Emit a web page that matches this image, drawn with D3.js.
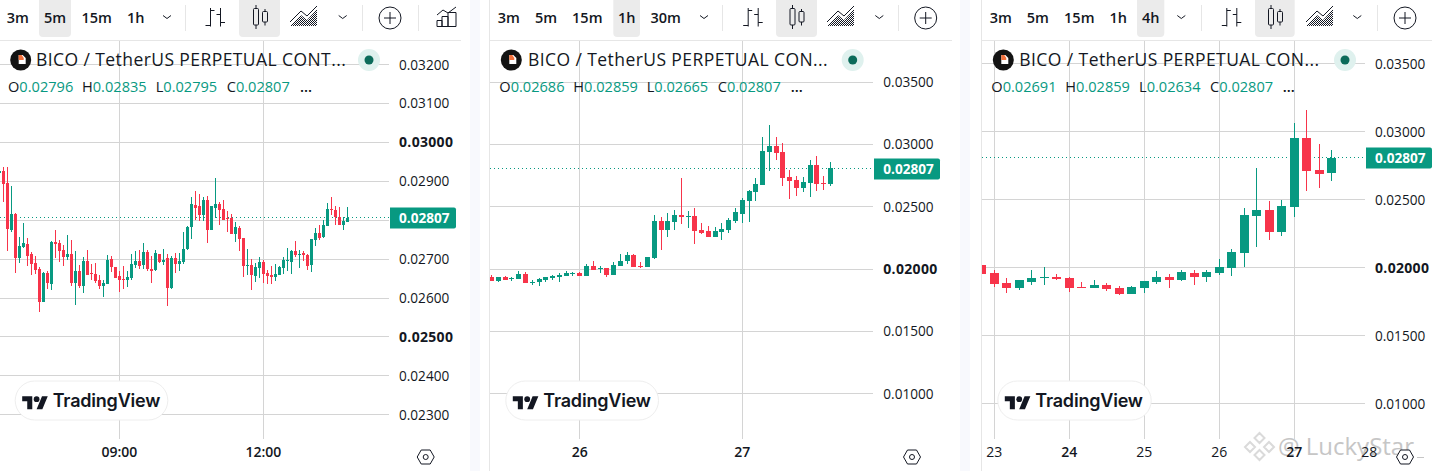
<!DOCTYPE html>
<html>
<head>
<meta charset="utf-8">
<script src="https://cdn.jsdelivr.net/npm/d3@7/dist/d3.min.js"></script>
<style>
  html, body { margin: 0; padding: 0; background: #fff; }
  svg { display: block; }
  text { font-family: "Open Sans", "Noto Sans", sans-serif; fill: #131722; }
</style>
</head>
<body>
<svg id="chart" width="1432" height="471"></svg>
<script>
// prices are stored in units of 0.00001, rows are [open, high, low, close]
const candles5m = [
  [2922,2926,2922,2926],[2926,2936,2847,2893],[2896,2936,2721,2778],[2775,2888,2770,2816],
  [2816,2819,2665,2703],[2703,2757,2691,2734],[2732,2793,2729,2742],[2739,2755,2683,2709],
  [2714,2719,2660,2688],[2691,2709,2662,2673],[2675,2680,2565,2591],[2591,2668,2591,2665],
  [2665,2670,2624,2639],[2637,2747,2621,2744],[2744,2775,2703,2739],[2742,2750,2693,2721],
  [2724,2737,2683,2706],[2706,2762,2698,2714],[2714,2750,2632,2639],[2639,2721,2583,2670],
  [2670,2685,2626,2632],[2632,2706,2614,2696],[2696,2724,2660,2660],[2665,2688,2647,2662],
  [2662,2691,2639,2644],[2647,2660,2624,2632],[2632,2647,2603,2639],[2637,2711,2637,2698],
  [2701,2709,2668,2680],[2680,2680,2652,2652],[2657,2670,2616,2647],[2650,2683,2624,2647],
  [2647,2670,2629,2655],[2652,2714,2647,2688],[2685,2721,2678,2696],[2696,2724,2675,2683],
  [2685,2742,2675,2719],[2719,2724,2670,2675],[2675,2709,2639,2670],[2673,2724,2670,2716],
  [2714,2714,2691,2693],[2693,2727,2685,2698],[2703,2714,2580,2626],[2626,2709,2624,2703],
  [2703,2716,2665,2688],[2688,2716,2670,2696],[2693,2770,2688,2727],[2727,2785,2724,2783],
  [2783,2860,2752,2842],[2839,2875,2801,2832],[2837,2867,2798,2814],[2814,2860,2798,2852],
  [2852,2862,2742,2775],[2775,2837,2775,2837],[2832,2908,2806,2842],[2842,2847,2788,2826],
  [2829,2852,2801,2801],[2806,2824,2770,2803],[2806,2816,2765,2765],[2765,2796,2744,2783],
  [2780,2785,2721,2752],[2755,2755,2655,2683],[2683,2727,2660,2685],[2685,2701,2621,2660],
  [2657,2691,2642,2680],[2678,2706,2652,2693],[2693,2698,2639,2662],[2665,2673,2637,2657],
  [2660,2683,2637,2655],[2655,2688,2644,2662],[2660,2683,2660,2680],[2678,2706,2662,2698],
  [2696,2729,2670,2698],[2693,2724,2662,2721],[2721,2747,2706,2711],[2711,2724,2678,2714],
  [2716,2721,2696,2711],[2711,2714,2673,2683],[2685,2752,2668,2752],[2750,2780,2734,2767],
  [2767,2788,2750,2755],[2757,2801,2755,2788],[2785,2844,2785,2829],[2829,2860,2814,2826],
  [2826,2837,2788,2808],[2808,2834,2788,2788],[2788,2808,2775,2798],[2796,2835,2795,2807]
];
const candles1h = [
  [1938,1954,1906,1906],[1906,1938,1898,1938],[1938,1946,1914,1914],[1922,1938,1906,1930],
  [1922,1987,1922,1962],[1962,1979,1890,1890],[1890,1914,1874,1898],[1898,1930,1866,1922],
  [1914,1938,1898,1938],[1930,1954,1914,1946],[1938,1971,1898,1954],[1946,1987,1946,1971],
  [1962,1979,1946,1971],[1971,1979,1946,1946],[1946,2043,1946,2027],[2027,2067,1995,1995],
  [2003,2027,1971,2011],[2011,2011,1938,1954],[1954,2059,1954,2035],[2027,2123,2027,2067],
  [2067,2139,2043,2115],[2115,2123,2019,2019],[2027,2059,2011,2019],[2019,2099,2019,2099],
  [2088,2433,2080,2385],[2385,2417,2152,2313],[2313,2449,2257,2385],[2377,2473,2313,2433],
  [2433,2730,2361,2417],[2417,2465,2329,2425],[2425,2489,2200,2305],[2313,2369,2281,2289],
  [2305,2345,2257,2257],[2257,2337,2257,2305],[2297,2369,2233,2321],[2313,2409,2289,2393],
  [2385,2489,2369,2457],[2441,2569,2369,2553],[2545,2634,2377,2626],[2618,2730,2545,2682],
  [2674,3059,2674,2947],[2939,3155,2786,2987],[2987,3059,2874,2931],[2939,3011,2666,2730],
  [2738,2794,2561,2706],[2714,2746,2586,2650],[2650,2738,2618,2698],[2690,2874,2577,2834],
  [2834,2906,2626,2682],[2690,2746,2634,2682],[2686,2859,2665,2807]
];
const candles4h = [
  [2017,2025,1951,1951],[1958,1980,1855,1877],[1885,1922,1811,1848],[1848,1907,1833,1907],
  [1892,1980,1870,1922],[1922,2000,1870,1929],[1929,1951,1907,1914],[1922,1929,1819,1848],
  [1855,1892,1848,1848],[1848,1907,1848,1870],[1870,1885,1826,1841],[1848,1863,1797,1804],
  [1804,1863,1804,1855],[1848,1900,1811,1900],[1892,1973,1877,1929],[1929,1951,1848,1907],
  [1907,1980,1900,1966],[1958,1980,1870,1929],[1929,1980,1892,1966],[1958,2061,1944,2003],
  [1995,2135,1936,2113],[2105,2436,2002,2385],[2377,2730,2150,2422],[2422,2488,2201,2260],
  [2260,2495,2230,2451],[2444,3061,2370,2951],[2951,3157,2561,2708],[2716,2907,2583,2686],
  [2691,2859,2634,2807]
];

const priceTicks5m = [3200, 3100, 3000, 2900, 2800, 2700, 2600, 2500, 2400, 2300];
const priceTicks1h = [3500, 3000, 2500, 2000, 1500, 1000];
const priceTicks4h = [3500, 3000, 2500, 2000, 1500, 1000];
const boldPrices5m = [3000, 2500];
const boldPrices1h = [2000];
const boldPrices4h = [2000];

const timeIdx5m = [30, 66];
const timeLabels5m = ['09:00', '12:00'];
const timeBold5m = ['09:00', '12:00'];
const timeIdx1h = [13, 37];
const timeLabels1h = ['26', '27'];
const timeBold1h = ['26', '27'];
const timeIdx4h = [1, 7, 13, 19, 25, 31];
const timeLabels4h = ['23', '24', '25', '26', '27', '28'];
const timeBold4h = ['24', '27'];

const intervals5m = ['3m', '5m', '15m', '1h'];
const intervals1h = ['3m', '5m', '15m', '1h', '30m'];
const intervals4h = ['3m', '5m', '15m', '1h', '4h'];

const lastPrice = 2807;
const ohlc5m = [2796, 2835, 2795, 2807];
const ohlc1h = [2686, 2859, 2665, 2807];
const ohlc4h = [2691, 2859, 2634, 2807];

const upColor = '#089981', downColor = '#f7344a', gridColor = '#d4d4d4', ink = '#131722';
const fmt = v => d3.format('.5f')(v / 100000);
const svg = d3.select('#chart');

// page background, the gaps between the three widgets are slightly tinted
svg.append('rect').attr('width', 1432).attr('height', 471).attr('fill', '#fff');
[[470, 10], [960, 10]].forEach(([x, w]) => {
  svg.append('rect').attr('x', x).attr('y', 0).attr('width', w).attr('height', 471).attr('fill', '#f8f9fd');
});

// repost watermark, the axis labels of the last widget stay readable on top of it
const wm = svg.append('g');
wm.append('text').attr('x', 1278).attr('y', 455).attr('font-size', 24)
  .style('font-family', '"Open Sans"').style('fill', '#c6c6c6').text('@ LuckyStar');
wm.append('path').attr('d', 'M1259.5 433l5 5-5 5-5-5zM1250 442l5 5-5 5-5-5zM1269 442l5 5-5 5-5-5zM1259.5 450l5 5-5 5-5-5z')
  .attr('fill', 'none').attr('stroke', '#dadada').attr('stroke-width', 2);
wm.append('line').attr('x1', 1417).attr('x2', 1424).attr('y1', 457.5).attr('y2', 457.5).attr('stroke', '#c6c6c6');

function hline(g, x1, x2, y, color) {
  g.append('line').attr('x1', x1).attr('x2', x2).attr('y1', y).attr('y2', y)
    .attr('stroke', color).attr('stroke-width', 1);
}
function vline(g, x, y1, y2, color) {
  g.append('line').attr('x1', x).attr('x2', x).attr('y1', y1).attr('y2', y2)
    .attr('stroke', color).attr('stroke-width', 1);
}

function barIcon(g, cx) {
  const i = g.append('g').attr('transform', `translate(${cx},18)`)
    .attr('fill', 'none').attr('stroke', ink).attr('stroke-width', 1);
  i.append('path').attr('d', 'M-3.5-10V8.5M-8.5 7.5H-3.5M-3.5-7.5H.5M6.5-10V8.5M2.5-3.5H6.5M6.5 4.5H11');
}
function candleIcon(g, cx) {
  const i = g.append('g').attr('transform', `translate(${cx},18)`)
    .attr('fill', 'none').attr('stroke', ink).attr('stroke-width', 1);
  i.append('path').attr('d', 'M-4.5-13V-9M-4.5 7V11M4.5-9V-6M4.5 4V7.5');
  i.append('rect').attr('x', -7).attr('y', -9.5).attr('width', 5).attr('height', 16.5).attr('rx', 1);
  i.append('rect').attr('x', 2).attr('y', -6.5).attr('width', 5).attr('height', 10.5).attr('rx', 1);
}
function areaIcon(g, cx, id) {
  const p = svg.append('defs').append('pattern').attr('id', id)
    .attr('width', 2).attr('height', 2).attr('patternUnits', 'userSpaceOnUse');
  p.append('rect').attr('width', 1).attr('height', 1).attr('fill', ink);
  p.append('rect').attr('x', 1).attr('y', 1).attr('width', 1).attr('height', 1).attr('fill', ink);
  const i = g.append('g').attr('transform', `translate(${cx},18)`);
  i.append('path').attr('d', 'M-14 8L-3-3 3 2 13-9V8Z').attr('fill', `url(#${id})`);
  i.append('path').attr('d', 'M-14 4L-3-7 3-2 13-12').attr('fill', 'none').attr('stroke', ink);
}
function chevron(g, cx) {
  g.append('path').attr('d', `M${cx - 4} 15.5L${cx} 18.5 ${cx + 4} 15.5`)
    .attr('fill', 'none').attr('stroke', ink).attr('stroke-width', 1);
}
function plusIcon(g, cx) {
  const i = g.append('g').attr('transform', `translate(${cx},18)`)
    .attr('fill', 'none').attr('stroke', ink).attr('stroke-width', 1);
  i.append('circle').attr('r', 11);
  i.append('path').attr('d', 'M-6 0H6M0-6V6');
}
function indicatorIcon(g, cx) {
  const i = g.append('g').attr('transform', `translate(${cx},18)`)
    .attr('fill', 'none').attr('stroke', ink).attr('stroke-width', 1);
  i.append('path').attr('d', 'M-10 8.5V2.5H-5V8.5M-5 8.5V-1.5H1V8.5M1 8.5V-5.5H9V8.5M-10 8.5H9M-10-3L-4-8 1-5 9-11');
}
function coinIcon(g, cx, cy) {
  g.append('circle').attr('cx', cx).attr('cy', cy).attr('r', 10.5).attr('fill', '#131313');
  g.append('path').attr('d', `M${cx - 2} ${cy - 5}h4l3 3v6h-7z`).attr('fill', '#fff');
  g.append('path').attr('d', `M${cx - 2} ${cy - 5}h3l2 3v2h-5z`).attr('fill', '#f2703c');
}
function settingsIcon(g, cx, cy) {
  g.append('path').attr('d', `M${cx - 8.5} ${cy}L${cx - 4.5} ${cy - 7}H${cx + 4.5}L${cx + 8.5} ${cy}L${cx + 4.5} ${cy + 7}H${cx - 4.5}Z`)
    .attr('fill', '#fff').attr('stroke', ink).attr('stroke-width', 1);
  g.append('circle').attr('cx', cx).attr('cy', cy).attr('r', 2.5).attr('fill', 'none').attr('stroke', ink);
}
function tvLogo(g, x1, x2) {
  const pill = g.append('g');
  pill.append('rect').attr('x', x1 + .5).attr('y', 381).attr('width', x2 - x1 - 1).attr('height', 39).attr('rx', 19.5)
    .attr('fill', '#fff').attr('stroke', '#eeeeee');
  const logo = pill.append('g').attr('transform', `translate(${x1 + 7.5},393.4) scale(.72)`).attr('fill', ink);
  logo.append('path').attr('d', 'M14 22H7V11H0V4h14v18zM28 22h-8l7.5-18h8L28 22z');
  logo.append('circle').attr('cx', 20).attr('cy', 8).attr('r', 4);
  pill.append('text').attr('x', x1 + 38).attr('y', 407).attr('font-size', 18).attr('font-weight', 600)
    .style('font-family', 'Inter').attr('letter-spacing', -0.2).text('TradingView');
}

function drawPanel(p) {
  const g = svg.append('g');
  const yScale = d3.scaleLinear().domain(p.priceDomain).range(p.priceRange);
  const xScale = d3.scaleLinear().domain([0, p.candles.length - 1]).range(p.xRange);
  const snap = v => Math.round(v - 0.5) + 0.5;

  // grid
  const grid = g.append('g');
  p.priceTicks.forEach(v => hline(grid, p.left, p.gridRight, snap(yScale(v)), gridColor));
  p.timeIdx.filter(i => xScale(i) < p.gridRight).forEach(i => vline(grid, snap(xScale(i)), 41, 439, gridColor));
  if (p.leftBorder) vline(grid, p.left - .5, 0, 471, '#e6e6e6');

  // toolbar
  const bar = g.append('g');
  hline(bar, p.left, p.toolbarRight, 40.5, '#e6e6e6');
  bar.append('path')
    .attr('d', `M${p.activeRange[0]} -4H${p.activeRange[1]}V33a4 4 0 0 1-4 4H${p.activeRange[0] + 4}a4 4 0 0 1-4-4Z`)
    .attr('fill', '#ebebeb');
  bar.append('path')
    .attr('d', `M${p.candleRange[0]} -4H${p.candleRange[1]}V33a4 4 0 0 1-4 4H${p.candleRange[0] + 4}a4 4 0 0 1-4-4Z`)
    .attr('fill', '#ebebeb');
  bar.selectAll('text.iv').data(p.intervals).join('text').attr('class', 'iv')
    .attr('x', (d, i) => p.intervalX[i]).attr('y', 23).attr('text-anchor', 'middle')
    .attr('font-size', 14.5).attr('font-weight', 600).text(d => d);
  p.seps.forEach(x => vline(bar, x, 5, 31, '#e6e6e6'));
  p.chevrons.forEach(x => chevron(bar, x));
  barIcon(bar, p.barX);
  candleIcon(bar, p.candleX);
  areaIcon(bar, p.areaX, p.id + '-hatch');
  plusIcon(bar, p.plusX);
  if (p.indicatorX) indicatorIcon(bar, p.indicatorX);

  // last price line, then candles
  const ly = snap(yScale(lastPrice));
  g.append('line').attr('x1', p.left).attr('x2', p.gridRight).attr('y1', ly).attr('y2', ly)
    .attr('stroke', upColor).attr('stroke-width', 1).attr('stroke-dasharray', '1,3');

  const clipId = p.id + '-clip';
  svg.append('defs').append('clipPath').attr('id', clipId).append('rect')
    .attr('x', p.left).attr('y', 41).attr('width', p.gridRight - p.left).attr('height', 398);
  const candles = g.append('g').attr('clip-path', `url(#${clipId})`)
    .selectAll('g').data(p.candles).join('g')
    .attr('fill', d => d[3] >= d[0] ? upColor : downColor);
  candles.append('rect')
    .attr('x', (d, i) => Math.round(xScale(i) - 0.5))
    .attr('width', 1)
    .attr('y', d => Math.round(yScale(d[1])))
    .attr('height', d => Math.round(yScale(d[2])) - Math.round(yScale(d[1])));
  candles.append('rect')
    .attr('x', (d, i) => Math.round(xScale(i) - 0.5) - (p.bodyWidth - 1) / 2)
    .attr('width', p.bodyWidth)
    .attr('y', d => Math.round(yScale(Math.max(d[0], d[3]))))
    .attr('height', d => Math.max(1, Math.round(yScale(Math.min(d[0], d[3]))) - Math.round(yScale(Math.max(d[0], d[3])))));

  // price axis
  const yAxis = d3.axisRight(yScale).tickValues(p.priceTicks).tickSize(0).tickPadding(0).tickFormat(fmt);
  const ya = g.append('g').attr('transform', `translate(${p.labelX},${p.labelDy})`).call(yAxis);
  ya.select('.domain').remove();
  ya.selectAll('text').style('font-family', '"Open Sans"').attr('fill', ink)
    .attr('font-size', d => p.boldPrices.includes(d) ? 14 : 13.6)
    .attr('letter-spacing', d => p.boldPrices.includes(d) ? 0.32 : 0)
    .attr('font-weight', d => p.boldPrices.includes(d) ? 700 : 400);

  // time axis
  const xAxis = d3.axisBottom(xScale).tickValues(p.timeIdx).tickSize(0).tickPadding(0)
    .tickFormat((d, i) => p.timeLabels[i]);
  const xa = g.append('g').attr('transform', 'translate(-0.5,447)').call(xAxis);
  xa.select('.domain').remove();
  xa.selectAll('text').style('font-family', '"Open Sans"').attr('font-size', 14).attr('fill', ink)
    .attr('font-weight', (d, i) => p.timeBold.includes(p.timeLabels[i]) ? 600 : 400);
  settingsIcon(g, p.settingsX, 457);

  // price tag
  g.append('path')
    .attr('d', `M${p.gridRight + 1} ${Math.round(ly) - 10.5}H${p.tagRight - 2}a2 2 0 0 1 2 2V${Math.round(ly) + 8.5}a2 2 0 0 1-2 2H${p.gridRight + 1}Z`)
    .attr('fill', upColor);
  g.append('text').attr('x', p.labelX).attr('y', Math.round(ly) + 5)
    .attr('font-size', 13.6).attr('font-weight', 700)
    .style('fill', '#fff').text(fmt(lastPrice));

  // legend
  coinIcon(g, p.coinX, 60);
  g.append('text').attr('x', p.titleX).attr('y', 66).attr('font-size', 17.5).attr('letter-spacing', 0.42).text(p.title);
  g.append('circle').attr('cx', p.dotX).attr('cy', 60).attr('r', 11).attr('fill', '#dff1ee');
  g.append('circle').attr('cx', p.dotX).attr('cy', 60).attr('r', 4.5).attr('fill', '#0b6b5a');
  const line = g.append('g').attr('font-size', 14.6);
  ['O', 'H', 'L', 'C'].forEach((k, i) => {
    const t = line.append('text').attr('x', p.ohlcX[i]).attr('y', 92);
    t.append('tspan').text(k);
    t.append('tspan').style('fill', upColor).text(fmt(p.ohlc[i]));
  });
  line.append('text').attr('x', p.ohlcX[4]).attr('y', 92).attr('font-weight', 600).text('...');

  tvLogo(g, p.pill[0], p.pill[1]);
}

drawPanel({
  id: 'p5m', left: 0, gridRight: 389, toolbarRight: 461, labelX: 399, labelDy: 0, tagRight: 456, settingsX: 425.7,
  priceDomain: [2300, 3200], priceRange: [414.7, 64.7], xRange: [-0.67, 347.33],
  candles: candles5m, bodyWidth: 3, priceTicks: priceTicks5m, boldPrices: boldPrices5m,
  timeIdx: timeIdx5m, timeLabels: timeLabels5m, timeBold: timeBold5m,
  intervals: intervals5m, intervalX: [17.7, 55, 96.7, 135.7],
  activeRange: [39, 71], candleRange: [239, 280], seps: [185.5, 362.5, 418.5], chevrons: [167, 342.7],
  barX: 214, candleX: 260.5, areaX: 304, plusX: 390, indicatorX: 447,
  coinX: 20.7, titleX: 36, title: 'BICO / TetherUS PERPETUAL CONT...', dotX: 369,
  ohlc: ohlc5m, ohlcX: [8, 82, 155.7, 226.7, 300], pill: [14.7, 168.3]
});
drawPanel({
  id: 'p1h', left: 490, gridRight: 873, toolbarRight: 952, labelX: 883.3, labelDy: 0, tagRight: 940, settingsX: 912,
  priceDomain: [1000, 3500], priceRange: [393.8, 82], xRange: [491.67, 830.33],
  candles: candles1h, bodyWidth: 5, priceTicks: priceTicks1h, boldPrices: boldPrices1h,
  timeIdx: timeIdx1h, timeLabels: timeLabels1h, timeBold: timeBold1h,
  intervals: intervals1h, intervalX: [508.7, 546, 587.3, 626.7, 665.7],
  activeRange: [613.3, 640], candleRange: [776, 817], seps: [722.5, 898.5], chevrons: [704, 879.3],
  barX: 751.7, candleX: 797, areaX: 841, plusX: 925.7,
  coinX: 511.3, titleX: 528, title: 'BICO / TetherUS PERPETUAL CON...', dotX: 852.7,
  ohlc: ohlc1h, ohlcX: [499.3, 573.3, 646.7, 717.7, 790.7], pill: [505.3, 659], leftBorder: true
});
drawPanel({
  id: 'p4h', left: 982, gridRight: 1365, toolbarRight: 1432, labelX: 1375, labelDy: 1, tagRight: 1432, settingsX: 1405,
  priceDomain: [1000, 3500], priceRange: [403.3, 63.3], xRange: [981.83, 1331.83],
  candles: candles4h, bodyWidth: 9, priceTicks: priceTicks4h, boldPrices: boldPrices4h,
  timeIdx: timeIdx4h, timeLabels: timeLabels4h, timeBold: timeBold4h,
  intervals: intervals4h, intervalX: [1000.7, 1037.7, 1079.3, 1118.3, 1150.7],
  activeRange: [1137, 1164.3], candleRange: [1255, 1294.7], seps: [1201.5, 1377.5], chevrons: [1181.3, 1357.3],
  barX: 1230.3, candleX: 1275.5, areaX: 1320, plusX: 1405,
  coinX: 1003.3, titleX: 1019.3, title: 'BICO / TetherUS PERPETUAL CON...', dotX: 1345,
  ohlc: ohlc4h, ohlcX: [991.3, 1065.3, 1139, 1210, 1282.7], pill: [997.3, 1151.7], leftBorder: true
});
</script>
</body>
</html>
